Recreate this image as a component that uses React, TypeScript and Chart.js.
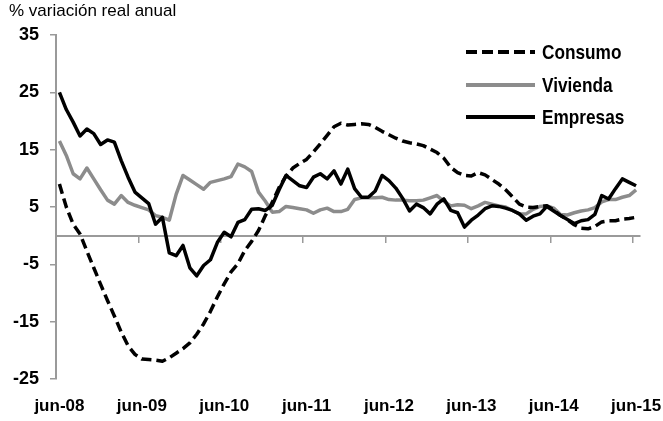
import React, { useEffect, useRef } from "react";
import { Chart, registerables } from "chart.js";

Chart.register(...registerables);

const MONTHS = ["ene", "feb", "mar", "abr", "may", "jun", "jul", "ago", "sep", "oct", "nov", "dic"];
const START_YEAR = 2008;
const START_MONTH = 5; // jun

const consumo = [
  9.0, 5.0, 2.0, 0.3, -2.7, -5.6, -8.5, -11.3, -14.0, -16.8, -19.2, -20.7,
  -21.5, -21.6, -21.7, -21.9, -21.3, -20.5, -19.7, -18.7, -17.2, -15.4, -13.2, -10.7,
  -8.4, -6.3, -4.9, -2.6, -1.0, 0.9, 3.5, 5.8, 8.4, 10.4, 11.8, 12.6,
  13.3, 14.6, 16.0, 17.5, 19.0, 19.6, 19.3, 19.4, 19.5, 19.4, 18.9, 18.2,
  17.6, 17.0, 16.5, 16.2, 16.0, 15.7, 15.1, 14.5, 13.5, 11.9, 11.0, 10.5,
  10.4, 11.0, 10.6, 9.8, 9.0, 8.0, 6.8, 5.5, 5.0, 4.9, 5.1, 5.2,
  4.5, 3.5, 2.8, 1.9, 1.3, 1.2, 1.6, 2.4, 2.6, 2.6, 2.9, 3.0,
  3.2,
];

const vivienda = [
  16.5, 14.0, 10.8, 9.9, 11.8, 9.9, 8.0, 6.2, 5.5, 7.0, 5.8, 5.3,
  4.9, 4.5, 3.5, 3.2, 2.7, 7.2, 10.5, 9.7, 8.9, 8.1, 9.3, 9.6,
  9.9, 10.3, 12.5, 12.0, 11.2, 7.6, 6.0, 4.1, 4.2, 5.1, 4.9, 4.7,
  4.5, 3.9, 4.5, 4.8, 4.2, 4.2, 4.6, 6.3, 6.6, 6.6, 6.6, 6.7,
  6.3, 6.2, 6.2, 6.1, 6.1, 6.2, 6.6, 7.0, 6.0, 5.2, 5.4, 5.3,
  4.7, 5.2, 5.8, 5.5, 5.2, 5.0, 4.4, 3.8, 3.8, 4.6, 5.1, 5.2,
  4.8, 3.7, 3.6, 4.0, 4.3, 4.5, 4.9, 5.9, 6.3, 6.3, 6.7, 7.0,
  8.0,
];

const empresas = [
  25.0, 22.0, 19.8, 17.4, 18.6, 17.8, 15.9, 16.7, 16.3, 13.1, 10.2, 7.6,
  6.6, 5.6, 2.0, 3.2, -3.0, -3.5, -1.7, -5.6, -7.0, -5.2, -4.2, -1.2,
  0.6, -0.2, 2.3, 2.8, 4.6, 4.7, 4.4, 5.3, 8.0, 10.5, 9.6, 8.7,
  8.4, 10.2, 10.8, 9.9, 11.3, 9.0, 11.6, 8.2, 6.7, 6.7, 7.8, 10.5,
  9.6, 8.3, 6.5, 4.3, 5.5, 4.9, 3.8, 5.5, 6.4, 4.4, 4.0, 1.5,
  2.7, 3.6, 4.7, 5.2, 5.1, 4.8, 4.4, 3.8, 2.7, 3.4, 3.8, 5.1,
  4.3, 3.5, 2.8, 2.1, 2.6, 2.8, 3.7, 7.0, 6.4, 8.2, 9.9, 9.3,
  8.7,
];

const categories: string[] = consumo.map((_, k) => {
  const m = (START_MONTH + k) % 12;
  const y = START_YEAR + Math.floor((START_MONTH + k) / 12);
  return `${MONTHS[m]}-${String(y % 100).padStart(2, "0")}`;
});

const yTicks = [-25, -15, -5, 5, 15, 25, 35];

const AXIS = "#9a9a9a";
const GRAY = "#8c8c8c";
const AXIS_FONT = '"Liberation Sans", Arial, sans-serif';

const legendItems = [
  { label: "Consumo", color: "#000000", dash: "11 5" },
  { label: "Vivienda", color: GRAY, dash: "" },
  { label: "Empresas", color: "#000000", dash: "" },
];

export default function App() {
  const canvasRef = useRef<HTMLCanvasElement | null>(null);

  useEffect(() => {
    const canvas = canvasRef.current;
    if (!canvas) return;
    const chart = new Chart(canvas, {
      type: "line",
      data: {
        labels: categories,
        datasets: [
          {
            label: "Consumo",
            data: consumo,
            borderColor: "#000000",
            borderWidth: 3.5,
            borderDash: [10, 5],
            borderCapStyle: "butt",
            borderJoinStyle: "round",
            pointRadius: 0,
            tension: 0,
            fill: false,
            order: 1,
          },
          {
            label: "Vivienda",
            data: vivienda,
            borderColor: GRAY,
            borderWidth: 3.5,
            borderJoinStyle: "round",
            pointRadius: 0,
            tension: 0,
            fill: false,
            order: 2,
          },
          {
            label: "Empresas",
            data: empresas,
            borderColor: "#000000",
            borderWidth: 3.5,
            borderJoinStyle: "round",
            pointRadius: 0,
            tension: 0,
            fill: false,
            order: 0,
          },
        ],
      },
      options: {
        responsive: false,
        animation: false,
        events: [],
        layout: { padding: { left: 0, top: 35, right: 23.5, bottom: 0 } },
        plugins: {
          legend: { display: false },
          title: { display: false },
          tooltip: { enabled: false },
        },
        scales: {
          x: {
            type: "category",
            position: "bottom",
            offset: true,
            grid: { display: false, drawTicks: false, offset: true },
            border: { display: false },
            ticks: {
              autoSkip: false,
              maxRotation: 0,
              minRotation: 0,
              padding: 17,
              color: "#000000",
              font: { family: AXIS_FONT, size: 17, weight: "bold" },
              callback: (_v: any, idx: number) =>
                categories[idx].startsWith("jun") ? categories[idx] : "",
            },
            afterFit: (s: any) => {
              s.height = 42;
              s.paddingLeft = 0;
              s.paddingRight = 0;
            },
          },
          x2: {
            type: "category",
            axis: "x",
            position: { y: 0 },
            offset: true,
            grid: {
              display: true,
              drawOnChartArea: false,
              drawTicks: true,
              tickLength: 6,
              offset: true,
              lineWidth: 1.5,
              color: (c: any) =>
                typeof c.index === "number" && c.index < categories.length && categories[c.index].startsWith("jun")
                  ? AXIS
                  : "rgba(0,0,0,0)",
            },
            border: { display: true, color: AXIS, width: 2 },
            ticks: { display: false },
            afterFit: (s: any) => {
              s.paddingLeft = 0;
              s.paddingRight = 0;
            },
          },
          y: {
            type: "linear",
            position: "left",
            min: -25,
            max: 35,
            afterBuildTicks: (s: any) => {
              s.ticks = yTicks.map((v) => ({ value: v }));
            },
            grid: {
              display: true,
              drawOnChartArea: false,
              drawTicks: true,
              tickLength: 6,
              lineWidth: 1.5,
              color: AXIS,
            },
            border: { display: true, color: AXIS, width: 2 },
            ticks: {
              padding: 11,
              color: "#000000",
              font: { family: AXIS_FONT, size: 18, weight: "bold" },
            },
            afterFit: (s: any) => {
              s.width = 56;
            },
          },
        },
      },
    });
    return () => chart.destroy();
  }, []);

  return (
    <div style={{ position: "fixed", left: 0, top: 0, width: 663, height: 421, background: "#ffffff" }}>
      <canvas ref={canvasRef} width={663} height={421} style={{ display: "block" }} />
      <div
        style={{
          position: "absolute",
          left: 9,
          top: 1,
          fontFamily: AXIS_FONT,
          fontSize: 17,
          lineHeight: "20px",
          color: "#000000",
          whiteSpace: "nowrap",
        }}
      >
        % variación real anual
      </div>
      {legendItems.map((it, k) => (
        <div
          key={it.label}
          style={{
            position: "absolute",
            left: 466,
            top: 42 + k * 32.5,
            height: 20,
            display: "flex",
            alignItems: "center",
            whiteSpace: "nowrap",
          }}
        >
          <svg width={70} height={20} style={{ display: "block" }}>
            <line
              x1={0}
              y1={10}
              x2={69}
              y2={10}
              stroke={it.color}
              strokeWidth={4}
              strokeDasharray={it.dash || undefined}
            />
          </svg>
          <span
            style={{
              display: "inline-block",
              marginLeft: 6,
              fontFamily: AXIS_FONT,
              fontWeight: "bold",
              fontSize: 21,
              lineHeight: "20px",
              color: "#000000",
              transform: "scaleX(0.82)",
              transformOrigin: "left center",
            }}
          >
            {it.label}
          </span>
        </div>
      ))}
    </div>
  );
}
